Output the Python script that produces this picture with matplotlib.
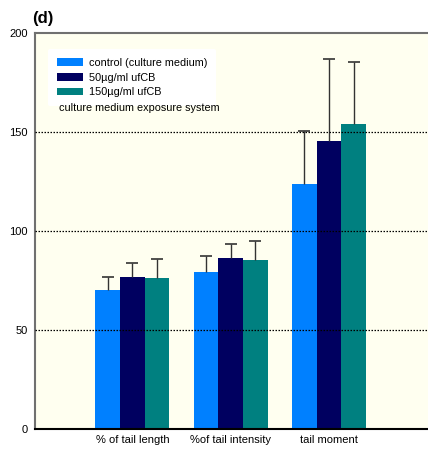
import matplotlib
matplotlib.use("Agg")
import matplotlib.pyplot as plt
import numpy as np
from matplotlib.patches import Patch

plt.rcParams['font.family'] = ['Liberation Sans', 'DejaVu Sans']

categories = ["% of tail length", "%of tail intensity", "tail moment"]
series_names = ["control (culture medium)", "50\u00b5g/ml ufCB", "150\u00b5g/ml ufCB"]
means = {
    "control (culture medium)": [70.0, 79.5, 123.5],
    "50\u00b5g/ml ufCB": [77.0, 86.6, 145.3],
    "150\u00b5g/ml ufCB": [76.5, 85.6, 154.0],
}
errors = {
    "control (culture medium)": [7.0, 8.0, 27.0],
    "50\u00b5g/ml ufCB": [7.0, 7.0, 41.5],
    "150\u00b5g/ml ufCB": [9.5, 9.5, 31.5],
}
colors = ["#0080FF", "#000060", "#008080"]
yticks = [0, 50, 100, 150, 200]

fig = plt.figure(figsize=(4.28, 4.53), dpi=100)
ax = fig.add_axes([35/428, 1 - 429/453, 1 - 35/428 + 0.01, (429 - 33)/453])
ax.set_facecolor("#FFFFF0")

x = np.arange(len(categories))
w = 0.25
for i, (name, c) in enumerate(zip(series_names, colors)):
    xs = x + (i - 1) * w
    m = np.array(means[name])
    e = np.array(errors[name])
    ax.bar(xs, m, width=w, color=c, zorder=2)
    ax.vlines(xs, m, m + e, color="#333333", linewidth=1.0, zorder=3)
    ax.plot(xs, m + e, linestyle="none", marker="_", markersize=9,
            markeredgewidth=1.2, color="#333333", zorder=3)

for yv in [50, 100, 150]:
    ax.axhline(yv, color="black", linestyle=(0, (1.2, 1.2)), linewidth=0.9, zorder=4)

ax.set_ylim(0, 200)
ax.set_xlim(-0.99, 3.05)
ax.set_yticks(yticks)
ax.set_yticklabels([str(v) for v in yticks], fontsize=8)
ax.set_xticks(x)
ax.set_xticklabels(categories, fontsize=8)
ax.tick_params(axis="both", length=0, pad=4)
ax.tick_params(axis="y", pad=5)

for s in ["top", "left"]:
    ax.spines[s].set_color("#707070")
    ax.spines[s].set_linewidth(1.5)
ax.spines["right"].set_visible(False)
ax.spines["bottom"].set_color("black")
ax.spines["bottom"].set_linewidth(1.5)

handles = [Patch(facecolor=c, edgecolor="none") for c in colors]
leg = ax.legend(handles, series_names, loc="upper left", bbox_to_anchor=(13/393, 1 - 16/396),
                frameon=True, fontsize=7.8, handlelength=2.4, handleheight=0.7,
                labelspacing=0.45, handletextpad=0.6, borderpad=0.8, borderaxespad=0)
leg.get_frame().set_facecolor("white")
leg.get_frame().set_edgecolor("none")
leg.get_frame().set_alpha(1)
ax.text(24/393, 1 - 75.5/396, "culture medium exposure system", transform=ax.transAxes,
        fontsize=7.8, va="center", ha="left", zorder=6)

fig.text(32/428, 1 - 18.5/453, "(d)", fontsize=12, fontweight="bold", va="center", ha="left")

fig.savefig("out.png", dpi=100)
